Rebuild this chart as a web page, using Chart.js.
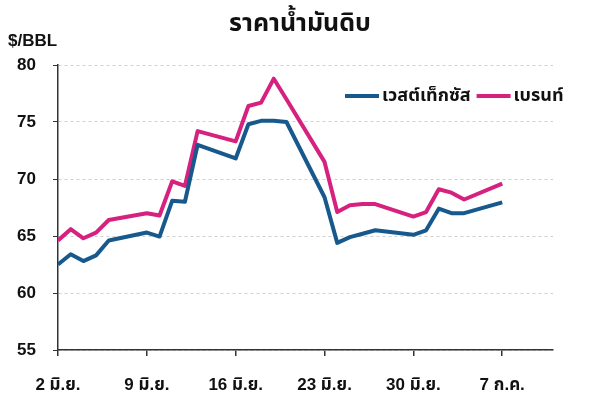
<!DOCTYPE html>
<html>
<head>
<meta charset="utf-8">
<script src="https://cdn.jsdelivr.net/npm/chart.js@4"></script>
<style>
html,body{margin:0;padding:0;background:#fff;}
#wrap{position:relative;width:600px;height:398px;}
</style>
</head>
<body>
<div id="wrap"><canvas id="c" width="600" height="398"></canvas></div>
<script>
// Day offsets from 2 June
const days = [0,1,2,3,4,7,8,9,10,11,14,15,16,17,18,21,22,23,24,25,28,29,30,31,32,35];
const wti   = [62.5,63.4,62.8,63.3,64.6,65.3,64.95,68.1,68.0,73.0,71.8,74.8,75.1,75.1,75.0,68.4,64.4,64.9,65.2,65.5,65.1,65.5,67.4,67.0,67.0,67.95];
const brent = [64.6,65.6,64.8,65.3,66.4,67.0,66.8,69.8,69.4,74.2,73.3,76.4,76.7,78.8,77.0,71.5,67.1,67.7,67.8,67.8,66.7,67.1,69.1,68.8,68.2,69.6];
const tickDays = [0,7,14,21,28,35];
const tickLabels = ['2 มิ.ย.','9 มิ.ย.','16 มิ.ย.','23 มิ.ย.','30 มิ.ย.','7 ก.ค.'];
const seriesNames = ['เวสต์เท็กซัส','เบรนท์'];
const seriesColors = ['#17598d','#d6217f'];
const yTicks = [55,60,65,70,75,80];

const FONT = '"Liberation Sans","Noto Sans Thai","Noto Sans Thai UI","Loma","Garuda",Arial,sans-serif';

const overlay = {
  id:'overlay',
  afterDraw(chart){
    const ctx = chart.ctx;
    ctx.save();
    ctx.fillStyle = '#111';
    ctx.textBaseline = 'middle';
    ctx.font = 'bold 25px ' + FONT;
    ctx.textAlign = 'center';
    ctx.fillText('ราคาน้ำมันดิบ', 300, 24);
    ctx.font = 'bold 17px ' + FONT;
    ctx.textAlign = 'left';
    ctx.fillText('$/BBL', 8, 41);
    // legend
    ctx.font = 'bold 18px ' + FONT;
    let x = 345; const y = 96;
    chart.data.datasets.forEach((ds,i)=>{
      ctx.strokeStyle = ds.borderColor;
      ctx.lineWidth = 4;
      ctx.beginPath(); ctx.moveTo(x,y); ctx.lineTo(x+34,y); ctx.stroke();
      ctx.fillStyle = '#111';
      ctx.fillText(ds.label, x+37, y);
      x = x + 37 + ctx.measureText(ds.label).width + 6;
    });
    ctx.restore();
  }
};

new Chart(document.getElementById('c'), {
  type:'line',
  data:{
    datasets:[
      {label:seriesNames[0], data:days.map((d,i)=>({x:d,y:wti[i]})), borderColor:seriesColors[0], borderWidth:4, pointRadius:0, tension:0, borderJoinStyle:'round'},
      {label:seriesNames[1], data:days.map((d,i)=>({x:d,y:brent[i]})), borderColor:seriesColors[1], borderWidth:4, pointRadius:0, tension:0, borderJoinStyle:'round'}
    ]
  },
  options:{
    responsive:false, animation:false,
    layout:{padding:{top:65,right:47,left:0,bottom:0}},
    plugins:{legend:{display:false}, title:{display:false}, tooltip:{enabled:false}},
    scales:{
      x:{
        type:'linear', min:0, max:39,
        afterBuildTicks(s){ s.ticks = tickDays.map(v=>({value:v})); },
        afterFit(s){ s.height = 48; },
        ticks:{ callback:(v)=>{const i=tickDays.indexOf(v); return i>=0?tickLabels[i]:'';}, color:'#111', font:{family:FONT,size:17,weight:'bold'}, padding:19, maxRotation:0, autoSkip:false },
        grid:{ drawOnChartArea:false, drawTicks:true, tickLength:6, tickColor:'#333', lineWidth:1.5 },
        border:{ display:true, color:'#333', width:1.5 }
      },
      y:{
        min:55, max:80,
        afterBuildTicks(s){ s.ticks = yTicks.map(v=>({value:v})); },
        afterFit(s){ s.width = 58; },
        ticks:{ color:'#111', font:{family:FONT,size:17,weight:'bold'}, padding:17 },
        grid:{ color:'#d0d0d0', lineWidth:1, drawTicks:true, tickLength:5, tickColor:'#333', tickBorderDash:[] },
        border:{ display:true, color:'#333', width:1.5, dash:[3,3] }
      }
    }
  },
  plugins:[overlay]
});
</script>
</body>
</html>
